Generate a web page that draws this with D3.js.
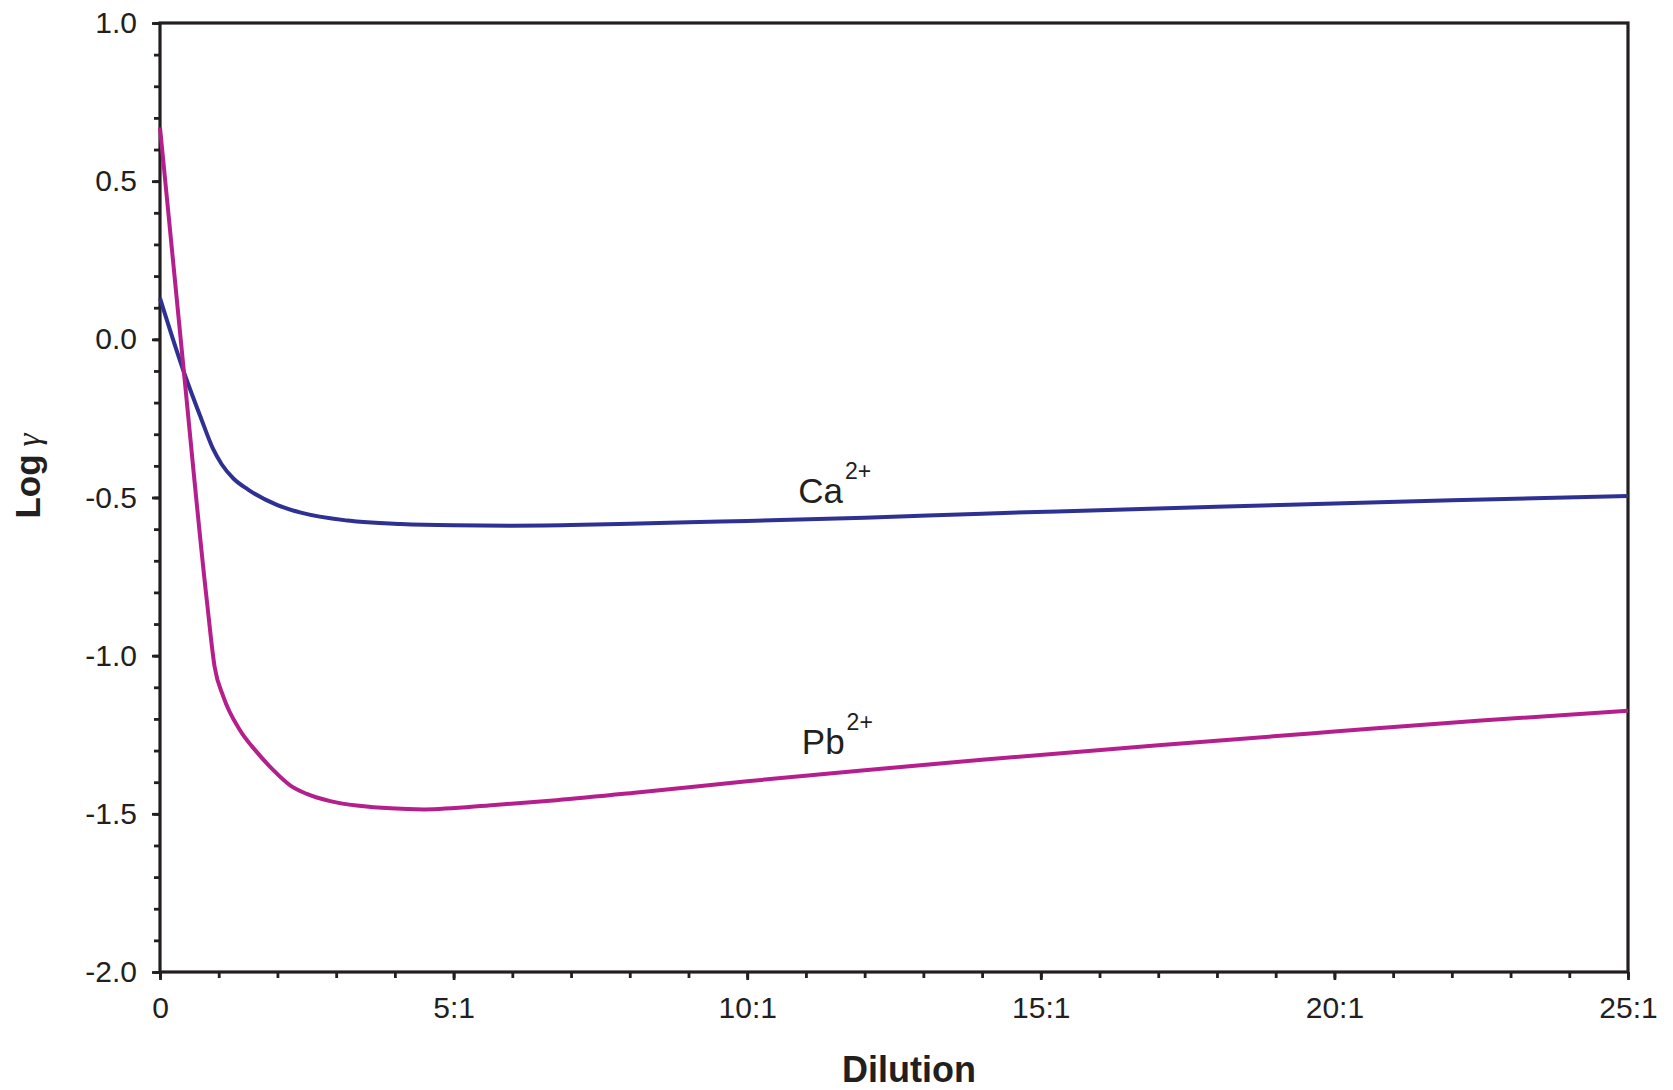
<!DOCTYPE html>
<html>
<head>
<meta charset="utf-8">
<script src="https://cdn.jsdelivr.net/npm/d3@7"></script>
<style>
  html, body { margin: 0; padding: 0; background: #ffffff; }
  svg { display: block; }
  text { font-family: "Liberation Sans", Arial, sans-serif; fill: #231f20; }
</style>
</head>
<body>
<svg id="chart" width="1673" height="1090"></svg>
<script>
// ---- data ----
const caX = [0, 0.4, 0.7, 0.9, 1.05, 1.25, 1.5, 2.0, 2.4, 3.2, 4.1, 5, 6, 7, 8, 9, 10, 12, 14, 16, 18, 20, 22, 25];
const caY = [0.13, -0.10, -0.25, -0.345, -0.395, -0.44, -0.475, -0.524, -0.548, -0.573, -0.584, -0.588, -0.589, -0.587, -0.583, -0.578, -0.574, -0.564, -0.551, -0.540, -0.529, -0.519, -0.509, -0.495];

const pbX = [0, 0.4, 0.8, 0.93, 1.08, 1.36, 1.65, 1.93, 2.21, 2.5, 2.9, 3.35, 4.5, 5.7, 6.75, 8.17, 10, 12, 14, 17, 20, 22.5, 25];
const pbY = [0.67, -0.09, -0.83, -1.035, -1.13, -1.235, -1.305, -1.362, -1.409, -1.437, -1.460, -1.474, -1.486, -1.472, -1.457, -1.432, -1.397, -1.362, -1.329, -1.283, -1.240, -1.205, -1.174];

const xTickValues = [0, 5, 10, 15, 20, 25];
const xTickLabels = ["0", "5:1", "10:1", "15:1", "20:1", "25:1"];
const yTickValues = [1.0, 0.5, 0.0, -0.5, -1.0, -1.5, -2.0];
const yTickLabels = ["1.0", "0.5", "0.0", "-0.5", "-1.0", "-1.5", "-2.0"];

const seriesNames = ["Ca", "Pb"];
const seriesColors = ["#2e3192", "#b51f8c"];
const labelX = [10.87, 10.93];
const labelY = [-0.518, -1.311];

const xTitle = "Dilution";
const yTitle = "Log";
const yTitleSymbol = "γ";

// ---- layout ----
const W = 1673, H = 1090;
const margin = {left: 160, right: 45, top: 23, bottom: 118};
const svg = d3.select("#chart");
const x = d3.scaleLinear().domain([0, 25]).range([margin.left, W - margin.right]);
const y = d3.scaleLinear().domain([-2, 1]).range([H - margin.bottom, margin.top]);

const axisColor = "#231f20";

// minor ticks
const gxMinor = svg.append("g")
  .attr("transform", `translate(0,${y(-2)})`)
  .call(d3.axisBottom(x).tickValues(d3.range(0, 26, 1)).tickSize(6).tickFormat(""));
const gyMinor = svg.append("g")
  .attr("transform", `translate(${x(0)},0)`)
  .call(d3.axisLeft(y).tickValues(d3.range(-20, 11, 1).map(v => v / 10)).tickSize(6).tickFormat(""));

// major ticks
const gx = svg.append("g")
  .attr("transform", `translate(0,${y(-2)})`)
  .call(d3.axisBottom(x).tickValues(xTickValues).tickSize(8).tickPadding(17)
    .tickFormat((d, i) => xTickLabels[i]));
const gy = svg.append("g")
  .attr("transform", `translate(${x(0)},0)`)
  .call(d3.axisLeft(y).tickValues(yTickValues).tickSize(8).tickPadding(15)
    .tickFormat((d, i) => yTickLabels[i]));

[gxMinor, gyMinor, gx, gy].forEach(g => {
  g.select(".domain").remove();
  g.selectAll(".tick line").attr("stroke", axisColor).attr("stroke-width", 2.8);
  g.selectAll(".tick text").attr("fill", axisColor)
    .style("font-family", '"Liberation Sans", Arial, sans-serif')
    .style("font-size", "30px");
});

// frame
svg.append("rect")
  .attr("x", x(0)).attr("y", y(1))
  .attr("width", x(25) - x(0)).attr("height", y(-2) - y(1))
  .attr("fill", "none").attr("stroke", axisColor).attr("stroke-width", 3.2);

// lines
const line = d3.line().x(d => x(d[0])).y(d => y(d[1])).curve(d3.curveMonotoneX);
const series = [d3.zip(caX, caY), d3.zip(pbX, pbY)];
series.forEach((s, i) => {
  svg.append("path").datum(s)
    .attr("d", line)
    .attr("fill", "none")
    .attr("stroke", seriesColors[i])
    .attr("stroke-width", 4)
    .attr("stroke-linejoin", "round");
});

// series labels
seriesNames.forEach((n, i) => {
  const t = svg.append("text")
    .attr("x", x(labelX[i])).attr("y", y(labelY[i]))
    .style("font-size", "35px");
  t.append("tspan").text(n);
  t.append("tspan").attr("dx", 2).attr("dy", -24).style("font-size", "23px").text("2+");
});

// axis titles
svg.append("text")
  .attr("x", 909).attr("y", 1082)
  .attr("text-anchor", "middle")
  .style("font-size", "36px").style("font-weight", "bold")
  .text(xTitle);

const yt = svg.append("text")
  .attr("transform", "translate(40,476) rotate(-90)")
  .attr("text-anchor", "middle")
  .style("font-size", "35px").style("font-weight", "bold");
yt.append("tspan").text(yTitle);
yt.append("tspan").attr("dx", 8)
  .style("font-family", '"Liberation Serif", "DejaVu Serif", serif')
  .style("font-style", "italic").style("font-weight", "normal").style("font-size", "33px")
  .text(yTitleSymbol);
</script>
</body>
</html>
